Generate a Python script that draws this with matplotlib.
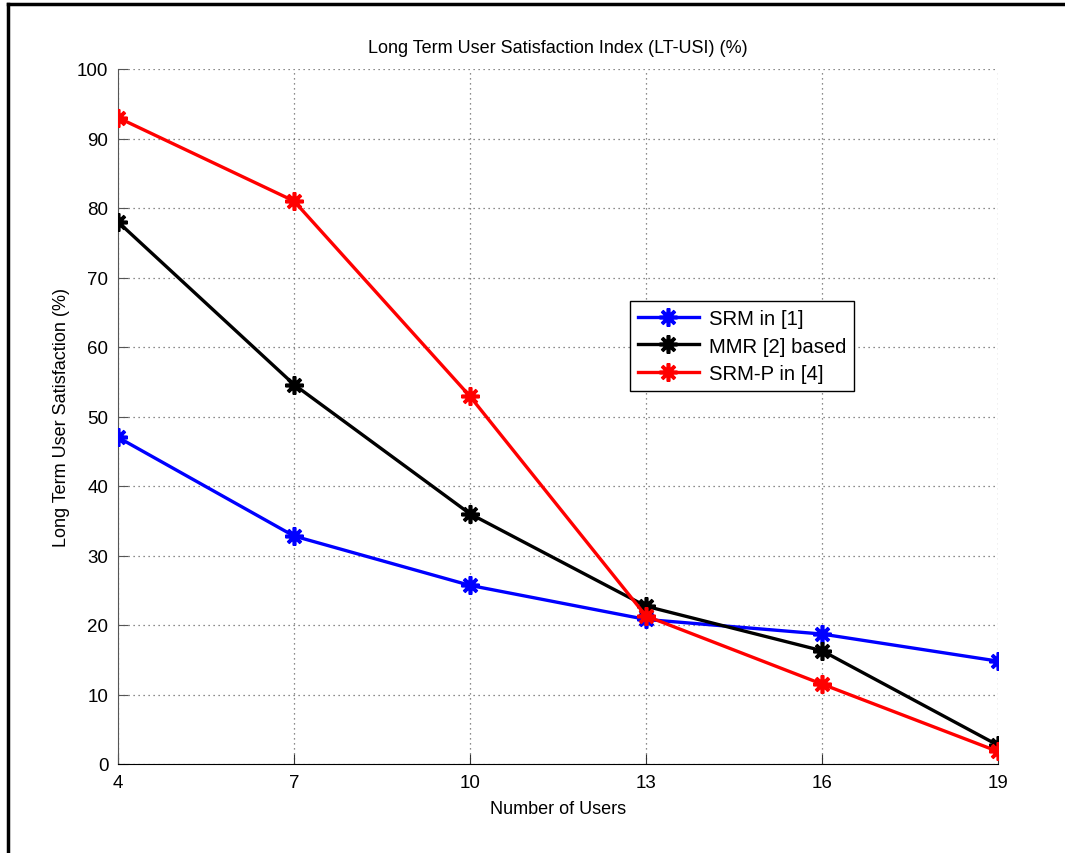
import matplotlib
matplotlib.use("Agg")
import matplotlib.pyplot as plt
from matplotlib.lines import Line2D

plt.rcParams['font.family'] = ['Liberation Sans', 'DejaVu Sans']

users = [4, 7, 10, 13, 16, 19]
srm = [47, 32.8, 25.7, 20.8, 18.7, 14.8]
mmr = [78, 54.6, 36, 22.7, 16.3, 2.7]
srm_p = [93, 81, 52.9, 21.3, 11.5, 1.8]
labels = ['SRM in [1]', 'MMR [2] based', 'SRM-P in [4]']
yticks = list(range(0, 101, 10))

fig = plt.figure(figsize=(10.65, 8.54), dpi=100)
ax = fig.add_axes([118/1065, 1-765/854, 880/1065, 695/854])

mk = (8, 2, 0)
for vals, col, lab in zip([srm, mmr, srm_p], ['#0000ff', '#000000', '#ff0000'], labels):
    ax.plot(users, vals, color=col, lw=2.4, marker=mk, ms=13, mew=2.6,
            mec=col, mfc=col, label=lab, zorder=3)

ax.set_xlim(4, 19)
ax.set_ylim(0, 100)
ax.set_xticks(users)
ax.set_yticks(yticks)
ax.grid(True, linestyle=(0, (1, 3)), color='#666666', lw=0.9)
ax.spines['top'].set_visible(False)
ax.spines['right'].set_visible(False)
ax.spines['left'].set_color('#555555')
ax.spines['bottom'].set_color('black')
ax.tick_params(direction='in', length=7, labelsize=13.5, colors='black', pad=7)
ax.tick_params(axis='y', color='#555555')
ax.tick_params(axis='x', color='#333333')

ax.set_title('Long Term User Satisfaction Index (LT-USI) (%)', fontsize=13, pad=12)
ax.set_xlabel('Number of Users', fontsize=13, labelpad=7)
ax.set_ylabel('Long Term User Satisfaction (%)', fontsize=13, labelpad=5)

leg = ax.legend(loc='lower left', bbox_to_anchor=(512/880, 373/695), borderaxespad=0,
                fontsize=14.6, frameon=True, fancybox=False, edgecolor='black', framealpha=1,
                handlelength=3.0, borderpad=0.38, labelspacing=0.43, handletextpad=0.5)
leg.get_frame().set_linewidth(1.0)

# figure frame lines (top and left)
fig.add_artist(Line2D([8/1065, 1.0], [1-5/854, 1-5/854], transform=fig.transFigure, color='black', lw=2.5))
fig.add_artist(Line2D([8/1065, 8/1065], [0.0, 1-5/854], transform=fig.transFigure, color='black', lw=2.5))

fig.savefig('out.png', dpi=100)
